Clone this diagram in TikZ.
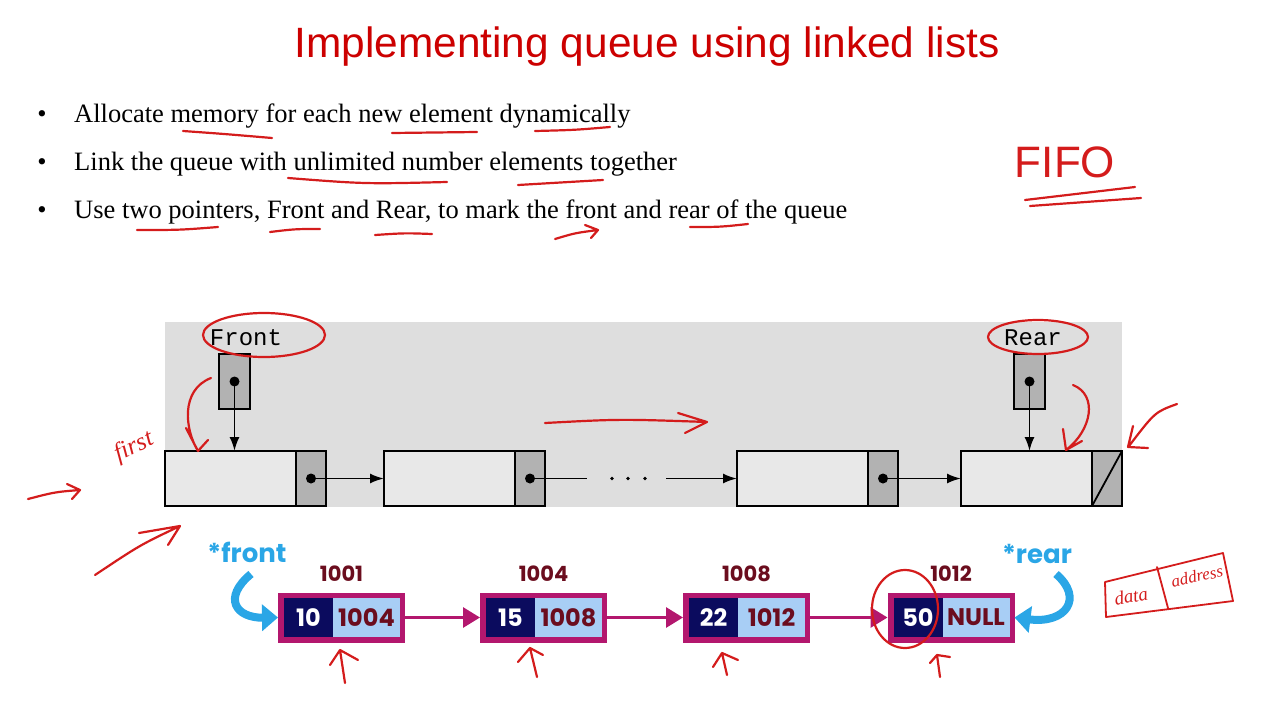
\documentclass[tikz,border=0pt]{standalone}
\usepackage{fontspec}
\setmainfont{Liberation Serif}
\newfontfamily\titlefont{Liberation Sans}
\newfontfamily\codefont{Liberation Mono}
\newfontfamily\qfont{Poppins}
\usetikzlibrary{arrows.meta, positioning, calc}

\definecolor{slidered}{HTML}{CC0000}
\definecolor{inkred}{HTML}{D41C1C}
\definecolor{panelgray}{HTML}{DEDEDE}
\definecolor{cellgray}{HTML}{E8E8E8}
\definecolor{ptrgray}{HTML}{B2B2B2}
\definecolor{qnavy}{HTML}{0B0B5E}
\definecolor{qlight}{HTML}{A8CEF5}
\definecolor{qmaroon}{HTML}{6B0D1E}
\definecolor{qmagenta}{HTML}{B3176E}
\definecolor{qblue}{HTML}{2AA6E6}

\begin{document}
\begin{tikzpicture}[x=1pt, y=-1pt,
  bullettext/.style={anchor=base west, inner sep=0pt, font=\fontsize{26.5}{30}\selectfont},
  cell/.style={draw, line width=1.8pt, fill=cellgray, minimum width=131pt, minimum height=55pt,
               inner sep=0pt, outer sep=0pt, anchor=west},
  ptr/.style={draw, line width=1.8pt, fill=ptrgray, minimum width=30pt, minimum height=55pt,
              inner sep=0pt, outer sep=0pt},
  dot/.style={circle, fill=black, inner sep=0pt, minimum size=10pt},
  link/.style={-{Latex[length=14pt, width=10pt]}, line width=1.9pt},
  tag/.style={anchor=base, inner sep=0pt, font=\codefont\fontsize{24}{24}\selectfont},
  qbox/.style={fill=qmagenta, minimum width=127pt, minimum height=50pt, inner sep=0pt, outer sep=0pt},
  qval/.style={fill=qnavy, text=white, minimum width=49pt, minimum height=39pt, inner sep=0pt,
               outer sep=0pt, font=\qfont\bfseries\fontsize{24}{24}\selectfont},
  qaddr/.style={fill=qlight, text=qmaroon, minimum width=67pt, minimum height=39pt, inner sep=0pt,
                outer sep=0pt, font=\qfont\bfseries\fontsize{24}{24}\selectfont},
  qtag/.style={text=qmaroon, inner sep=0pt, font=\qfont\bfseries\fontsize{21}{21}\selectfont},
  qlink/.style={qmagenta, line width=3pt, -{Triangle[length=17pt, width=20pt]}},
  qptr/.style={text=qblue, inner sep=0pt, font=\qfont\bfseries\fontsize{26}{26}\selectfont},
  swoop/.style={qblue, line width=8pt, -{Triangle[length=16pt, width=26pt]}},
  ink/.style={inkred, line width=2.2pt, line cap=round, line join=round}]

  \useasboundingbox (0,0) rectangle (1280,720);

  % title and bullets
  \node[anchor=base, text=slidered, font=\titlefont\fontsize{42.4}{44}\selectfont] (title) at (647,57)
    {Implementing queue using linked lists};
  \foreach \y/\txt in {122/{Allocate memory for each new element dynamically},
                       170/{Link the queue with unlimited number elements together},
                       218/{Use two pointers, Front and Rear, to mark the front and rear of the queue}} {
    \node[anchor=base, font=\fontsize{26.5}{30}\selectfont] at (42,\y) {\textbullet};
    \node[bullettext] at (74,\y) {\txt};
  }

  % textbook picture
  \fill[panelgray] (165,322) rectangle (1122,507);
  \node[cell] (c1) at (165,478.5) {};
  \node[ptr, right=0pt of c1] (p1) {};
  \node[cell] (c2) at (384,478.5) {};
  \node[ptr, right=0pt of c2] (p2) {};
  \node[cell] (c3) at (737,478.5) {};
  \node[ptr, right=0pt of c3] (p3) {};
  \node[cell] (c4) at (961,478.5) {};
  \node[ptr, right=0pt of c4] (p4) {};
  \draw[line width=1.8pt] (p4.south west) -- (p4.north east);
  \foreach \i in {1,2,3} \node[dot] (d\i) at (p\i.center) {};
  \coordinate (gapL) at (587,478.5);
  \coordinate (gapR) at (666,478.5);
  \draw[link] (d1.center) -- (c2.west);
  \draw[line width=1.9pt] (d2.center) -- (gapL);
  \foreach \x in {612,628,645} \fill (\x,478.5) circle (1.9pt);
  \draw[link] (gapR) -- (c3.west);
  \draw[link] (d3.center) -- (c4.west);

  \node[ptr, minimum width=31pt] (fp) at (234.5,381.5) {};
  \node[dot] (fd) at (fp.center) {};
  \node[tag] (front) at (246,345) {Front};
  \draw[link] (fd.center) -- (fd.center |- c1.north);
  \node[ptr, minimum width=31pt] (rp) at (1029.5,381.5) {};
  \node[dot] (rd) at (rp.center) {};
  \node[tag] (rear) at (1033,345) {Rear};
  \draw[link] (rd.center) -- (rd.center |- c4.north);

  % memory picture
  \foreach \i/\x/\v/\n/\a in {1/341.5/10/1004/1001, 2/543.5/15/1008/1004,
                              3/746.5/22/1012/1008, 4/951/50/NULL/1012} {
    \node[qbox] (b\i) at (\x,617.5) {};
    \node[qval, anchor=west] (v\i) at ([xshift=6pt]b\i.west) {\v};
    \node[qaddr, right=0pt of v\i] (n\i) {\n};
    \node[qtag, above=11pt of b\i] (m\i) {\a};
  }
  \draw[qlink] (b1.east) -- (b2.west);
  \draw[qlink] (b2.east) -- (b3.west);
  \draw[qlink] (b3.east) -- (b4.west);
  \node[qptr] (qfront) at (247,552) {*front};
  \node[qptr] (qrear) at (1037,554) {*rear};
  \draw[swoop] (251,574) .. controls (222,598) and (236,618) .. (b1.west);
  \draw[swoop] (1056,574) .. controls (1084,598) and (1066,624) .. (b4.east);

  % pen notes
  \draw[ink] (183,131) .. controls (225,134) .. (272,138);
  \draw[ink] (392,133) .. controls (435,133) .. (477,132);
  \draw[ink] (535,131) .. controls (575,130) .. (610,127);
  \draw[ink] (288,178) .. controls (365,184) .. (447,182);
  \draw[ink] (518,185) .. controls (560,182) .. (603,180);
  \draw[ink] (137,230) .. controls (180,230) .. (218,227);
  \draw[ink] (270,232) .. controls (295,229) .. (320,229);
  \draw[ink] (375,235) .. controls (405,233) .. (432,234);
  \draw[ink] (555,239) .. controls (575,233) .. (598,230) (585,225) -- (598,230) -- (591,238);
  \draw[ink] (690,227) .. controls (720,227) .. (748,224);
  \node[text=inkred, font=\titlefont\fontsize{44}{44}\selectfont] (fifo) at (1065,162) {FIFO};
  \draw[ink] (1025,200) .. controls (1080,193) .. (1135,187);
  \draw[ink] (1030,206) .. controls (1085,202) .. (1141,198);

  \draw[ink] (264,335) ellipse [x radius=61, y radius=22];
  \draw[ink] (1038,337) ellipse [x radius=50, y radius=17];
  \draw[ink] (905,609) ellipse [x radius=33, y radius=39];

  \draw[ink] (211,378) .. controls (180,390) and (185,430) .. (198,451) (186,428) -- (198,451) -- (208,440);
  \draw[ink] (1073,385) .. controls (1098,395) and (1092,430) .. (1066,450) (1063,429) -- (1066,450) -- (1082,441);
  \draw[ink] (1177,404) .. controls (1155,412) .. (1129,446) (1133,426) -- (1128,447) -- (1148,448);
  \draw[ink] (545,423) .. controls (620,419) .. (707,422) (678,413) -- (707,422) -- (685,433);
  \node[text=inkred, rotate=25, font=\itshape\fontsize{25}{25}\selectfont] (first) at (134,447) {first};
  \draw[ink] (28,499) .. controls (55,492) .. (80,490) (67,484) -- (80,490) -- (72,499);
  \draw[ink] (95,575) .. controls (140,545) .. (180,526) (139,533) -- (180,526) -- (168,545);
  \draw[ink] (345,683) -- (340,650) (330,665) -- (340,650) -- (358,660);
  \draw[ink] (537,677) -- (530,648) (518,662) -- (530,648) -- (543,655);
  \draw[ink] (727,675) -- (722,653) (713,667) -- (722,653) -- (738,660);
  \draw[ink] (940,677) -- (937,655) (930,663) -- (937,655) -- (950,657);

  \draw[ink, line width=1.8pt] (1105,582) -- (1223,553) -- (1233,601) -- (1106,617) -- cycle
    (1157,567) -- (1168,608);
  \node[text=inkred, rotate=10, font=\itshape\fontsize{19}{19}\selectfont] (data) at (1131,596) {data};
  \node[text=inkred, rotate=12, font=\itshape\fontsize{17}{17}\selectfont] (address) at (1197,576) {address};
\end{tikzpicture}
\end{document}
